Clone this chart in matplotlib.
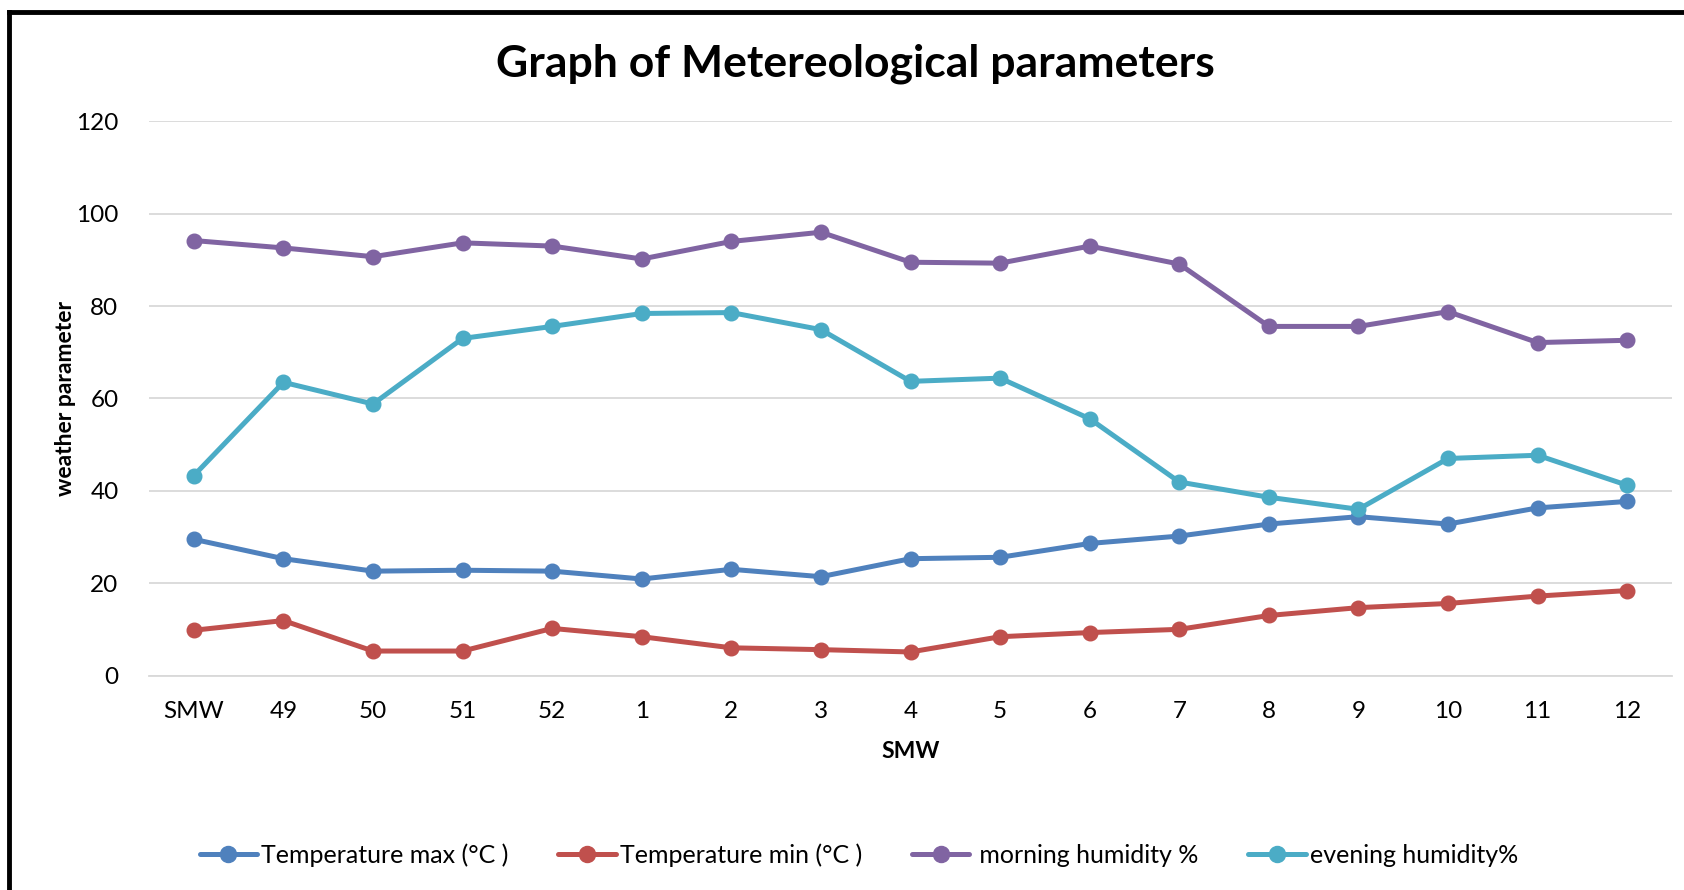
import matplotlib
matplotlib.use('Agg')
import matplotlib.pyplot as plt
from matplotlib.lines import Line2D

plt.rcParams['font.family'] = ['Lato', 'DejaVu Sans']

WEEKS = ['SMW', '49', '50', '51', '52', '1', '2', '3', '4', '5', '6', '7', '8', '9', '10', '11', '12']

TEMP_MAX = [29.5, 25.3, 22.6, 22.8, 22.6, 20.9, 23.0, 21.4, 25.3, 25.6, 28.6, 30.2, 32.8, 34.4, 32.8, 36.3, 37.7]
TEMP_MIN = [9.8, 11.9, 5.3, 5.3, 10.2, 8.4, 6.0, 5.6, 5.1, 8.4, 9.3, 10.0, 13.0, 14.7, 15.6, 17.2, 18.4]
MORNING_HUM = [94.2, 92.6, 90.7, 93.7, 93.0, 90.2, 94.0, 96.0, 89.5, 89.3, 93.0, 89.1, 75.6, 75.6, 78.8, 72.1, 72.6]
EVENING_HUM = [43.3, 63.5, 58.8, 73.0, 75.6, 78.4, 78.6, 74.9, 63.7, 64.4, 55.6, 41.9, 38.6, 36.0, 47.0, 47.7, 41.2]

SERIES = [
    ('Temperature max (°C )', TEMP_MAX, '#4F81BD'),
    ('Temperature min (°C )', TEMP_MIN, '#C0504D'),
    (' morning humidity %', MORNING_HUM, '#8064A2'),
    ('evening humidity%', EVENING_HUM, '#4BACC6'),
]

fig = plt.figure(figsize=(16.84, 8.90), dpi=100)
ax = fig.add_axes([0.0885, 0.241, 0.9044, 0.6226])

x = list(range(len(WEEKS)))
for label, values, color in SERIES:
    ax.plot(x, values, color=color, lw=3.6, marker='o', markersize=10.5,
            label=label, solid_capstyle='round')

ax.set_xlim(-0.5, len(WEEKS) - 0.5)
ax.set_ylim(0, 120)
ax.set_yticks(range(0, 121, 20))
ax.set_xticks(x)
ax.set_xticklabels(WEEKS)
ax.tick_params(length=0, labelsize=17.5, pad=18)
ax.tick_params(axis='y', pad=22)
ax.yaxis.grid(True, color='#D9D9D9', lw=1.3)
ax.set_axisbelow(True)
for s in ['top', 'right', 'left']:
    ax.spines[s].set_visible(False)
ax.spines['bottom'].set_color('#D9D9D9')
ax.spines['bottom'].set_linewidth(1.3)

ax.set_xlabel('SMW', fontsize=16.5, fontweight='bold', labelpad=14)
ax.set_ylabel('weather parameter', fontsize=16.5, fontweight='bold', labelpad=0)

fig.text(0.508, 0.928, 'Graph of Metereological parameters', ha='center', va='center',
         fontsize=32, fontweight='bold')

fig.legend(loc='center', bbox_to_anchor=(0.51, 0.039), ncol=4, frameon=False,
           fontsize=18, handlelength=2.3, columnspacing=2.0, handletextpad=0.15,
           markerscale=1.1)

# frame around the chart area
fig.add_artist(Line2D([0.0056, 0.0056], [0, 0.9865], transform=fig.transFigure, color='black', lw=3.5))
fig.add_artist(Line2D([0.0056, 1.0], [0.9865, 0.9865], transform=fig.transFigure, color='black', lw=3.5))

fig.savefig('out.png', dpi=100)
